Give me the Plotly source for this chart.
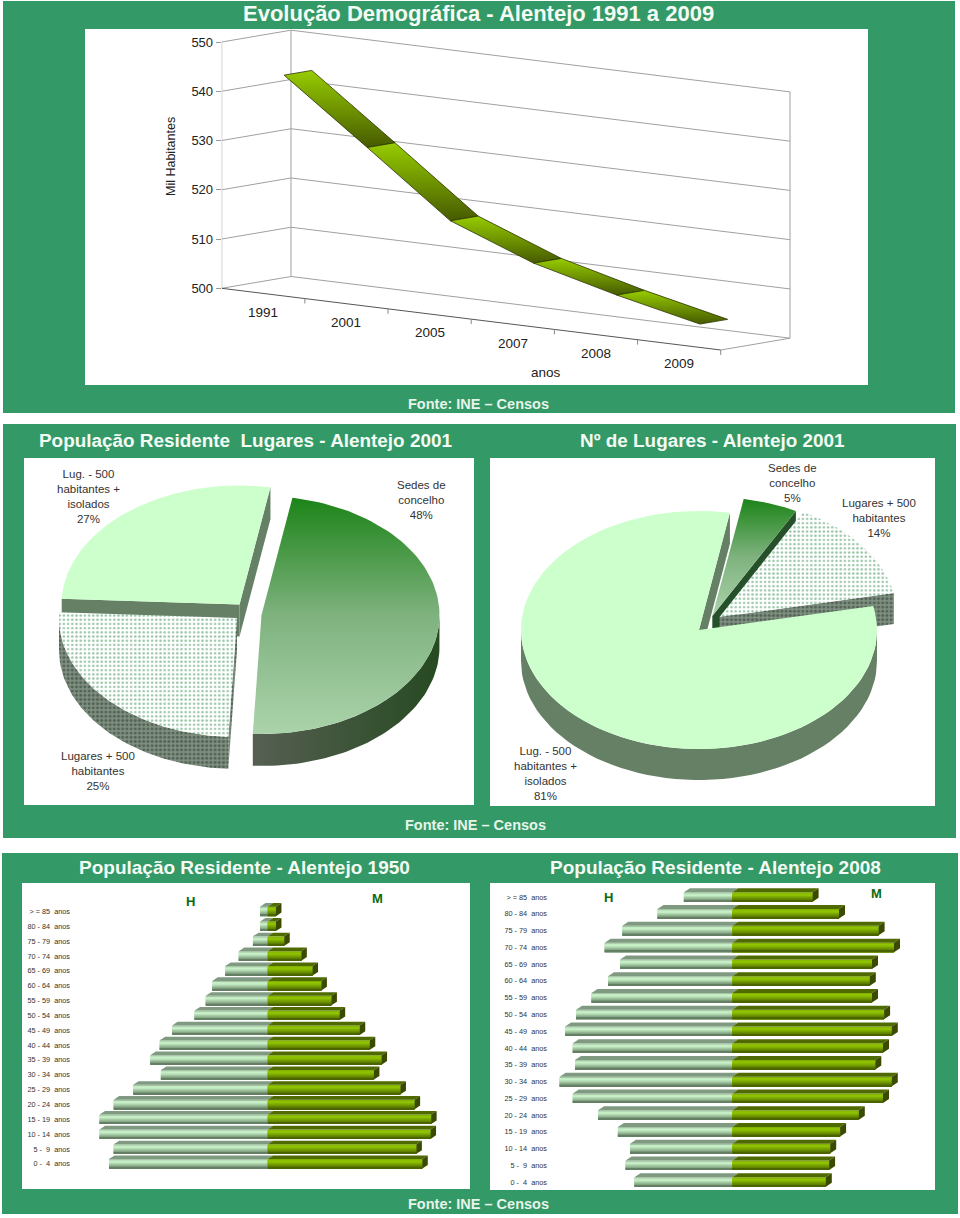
import numpy as np
import plotly.graph_objects as go

# ---------- DATA ----------
anos = ["1991", "2001", "2005", "2007", "2008", "2009"]
populacao = [543.6, 531.0, 518.2, 511.7, 507.3, 503.5]
ticks_pop = [500, 510, 520, 530, 540, 550]

pie1_labels = ["Sedes de<br>concelho<br>48%", "Lugares + 500<br>habitantes<br>25%", "Lug. - 500<br>habitantes +<br>isolados<br>27%"]
pie1_values = [48, 25, 27]
pie2_labels = ["Sedes de<br>concelho<br>5%", "Lugares + 500<br>habitantes<br>14%", "Lug. - 500<br>habitantes +<br>isolados<br>81%"]
pie2_values = [5, 14, 81]

idades = ["> = 85\u00a0 anos", "80 - 84\u00a0 anos", "75 - 79\u00a0 anos", "70 - 74\u00a0 anos", "65 - 69\u00a0 anos",
          "60 - 64\u00a0 anos", "55 - 59\u00a0 anos", "50 - 54\u00a0 anos", "45 - 49\u00a0 anos", "40 - 44\u00a0 anos",
          "35 - 39\u00a0 anos", "30 - 34\u00a0 anos", "25 - 29\u00a0 anos", "20 - 24\u00a0 anos", "15 - 19\u00a0 anos",
          "10 - 14\u00a0 anos", "5 -\u00a0 9\u00a0 anos", "0 -\u00a0 4\u00a0 anos"]
h_1950 = [1.3, 1.3, 2.5, 4.9, 7.2, 9.4, 10.5, 12.4, 16.2, 18.3, 19.9, 18.1, 22.8, 26.1, 28.5, 28.5, 26.1, 26.9]
m_1950 = [1.4, 1.4, 2.8, 5.7, 7.6, 9.1, 10.8, 12.2, 15.6, 17.3, 19.3, 18.0, 22.5, 24.9, 27.7, 27.6, 25.2, 26.2]
h_2008 = [4.4, 6.8, 10.0, 11.6, 10.2, 11.3, 12.8, 14.2, 15.2, 14.5, 14.3, 15.7, 14.5, 12.2, 10.4, 9.3, 9.7, 8.9]
m_2008 = [7.3, 9.7, 13.3, 14.7, 12.7, 12.5, 12.7, 13.8, 14.5, 13.7, 13.0, 14.5, 13.7, 11.5, 9.8, 8.9, 8.8, 8.5]

# ---------- LAYOUT HELPERS ----------
W, H = 960, 1218
FONT = "Liberation Sans"
GREEN = "#339966"
px_x = lambda p: p / W
px_y = lambda p: 1 - p / H
dom_x = lambda a, b: [px_x(a), px_x(b)]
dom_y = lambda top, bot: [px_y(bot), px_y(top)]

fig = go.Figure()
shapes, annos = [], []


def rect(x0, y0, x1, y1, color):
    shapes.append(dict(type="rect", xref="paper", yref="paper", x0=px_x(x0), x1=px_x(x1), y0=px_y(y1), y1=px_y(y0),
                       fillcolor=color, line_width=0, layer="below"))


def page_text(text, x, y, size, color="white", bold=False, angle=0):
    annos.append(dict(text=f"<b>{text}</b>" if bold else text, xref="paper", yref="paper", x=px_x(x), y=px_y(y),
                      showarrow=False, xanchor="center", yanchor="middle", textangle=angle,
                      font=dict(family=FONT, size=size, color=color)))


for box in [(3, 1, 955, 413), (3, 424, 956, 838), (2, 853, 958, 1214)]:
    rect(*box, GREEN)
for box in [(85, 29, 868, 385), (24, 458, 474, 805), (490, 458, 935, 806), (22, 883, 470, 1189), (490, 883, 935, 1190)]:
    rect(*box, "white")

page_text("Evolução Demográfica - Alentejo 1991 a 2009", 478.5, 13, 22, bold=True, color="#f4fbf4")
page_text("População Residente  Lugares - Alentejo 2001", 246, 440, 18.9, bold=True, color="#f4fbf4")
page_text("Nº de Lugares - Alentejo 2001", 712, 440, 18.9, bold=True, color="#f4fbf4")
page_text("População Residente - Alentejo 1950", 245, 867, 19, bold=True, color="#f4fbf4")
page_text("População Residente - Alentejo 2008", 715, 867, 19, bold=True, color="#f4fbf4")
for yy, xx in [(404, 478), (825, 475), (1204, 478)]:
    page_text("Fonte: INE \u2013 Censos", xx, yy, 14.5, bold=True, color="#e6f4ea")


def hidden_axis(domain, rng):
    return dict(domain=domain, range=rng, visible=False, fixedrange=True)


# ---------- 3-D LINE ----------
U_PX, V_PX = 83.17, 4.926
SLOPE_U, SLOPE_D = 10.283, 11.8
DEPTH_U = 69.3 / U_PX


def proj(u, d, v):
    return u + d * DEPTH_U, v - (u * SLOPE_U - d * SLOPE_D) / V_PX


def seg(points, color="#a0a0a0", width=1):
    xs, ys = zip(*[proj(*p) for p in points])
    fig.add_trace(go.Scatter(x=xs, y=ys, mode="lines", line=dict(color=color, width=width), hoverinfo="skip",
                             showlegend=False, xaxis="x", yaxis="y"))


n = len(anos)
for t in ticks_pop:
    seg([(0, 0, t), (0, 1, t), (n, 1, t)])
seg([(0, 0, ticks_pop[0]), (0, 0, ticks_pop[-1])])
seg([(0, 1, ticks_pop[0]), (0, 1, ticks_pop[-1])])
seg([(n, 1, ticks_pop[0]), (n, 1, ticks_pop[-1])])
seg([(n, 0, ticks_pop[0]), (n, 1, ticks_pop[0])])
seg([(0, 0, ticks_pop[0]), (n, 0, ticks_pop[0])], color="#555555")
for k in range(1, n + 1):
    seg([(k, 0, ticks_pop[0]), (k, 0, ticks_pop[0] - 1.0)], color="#888888")

for k in range(n - 1):
    corners = [proj(k + .5, .3, populacao[k]), proj(k + .5, .7, populacao[k]),
               proj(k + 1.5, .7, populacao[k + 1]), proj(k + 1.5, .3, populacao[k + 1])]
    corners.append(corners[0])
    xs, ys = zip(*corners)
    fig.add_trace(go.Scatter(x=xs, y=ys, mode="lines", fill="toself", line=dict(color="#2a3300", width=0.8),
                             fillgradient=dict(type="vertical", colorscale=[[0, "#465a00"], [0.5, "#6f9400"], [1, "#97cc00"]]),
                             hoverinfo="skip", showlegend=False, xaxis="x", yaxis="y"))
for k, lab in enumerate(anos):
    x, y = proj(k + .5, 0, ticks_pop[0] - 3.8)
    annos.append(dict(text=lab, x=x, y=y, xref="x", yref="y", showarrow=False, xanchor="center", yanchor="middle",
                      font=dict(family=FONT, size=13.5, color="#222222")))
page_text("anos", 546, 372, 13.5, color="#222222")
page_text("Mil Habitantes", 171, 157, 12.5, color="#222222", angle=-90)

axes = dict(
    xaxis=hidden_axis(dom_x(221.7, 868), [0, (868 - 221.7) / U_PX]),
    yaxis=dict(domain=dom_y(29, 385), range=[500 + (288.3 - 385) / V_PX, 500 + (288.3 - 29) / V_PX], tickvals=ticks_pop,
               showgrid=False, zeroline=False, showline=False, ticks="outside", ticklen=5, tickcolor="#999999", anchor="x",
               tickfont=dict(family=FONT, size=13, color="#222222"), fixedrange=True),
    xaxis2=hidden_axis(dom_x(24, 474), [24, 474]), yaxis2=hidden_axis(dom_y(458, 805), [805, 458]),
    xaxis3=hidden_axis(dom_x(490, 935), [490, 935]), yaxis3=hidden_axis(dom_y(458, 806), [806, 458]),
)
for k in "23":
    axes["xaxis" + k]["anchor"] = "y" + k
    axes["yaxis" + k]["anchor"] = "x" + k

# ---------- 3-D PIES ----------
A, B = 178, 119
START = 10.0
SOLID = lambda c: dict(fillcolor=c)
grad_top = dict(fillgradient=dict(type="vertical", colorscale=[[0, "#abd3ab"], [0.5, "#7fb27f"], [1, "#1c8418"]]))
grad_arc = dict(fillgradient=dict(type="horizontal", colorscale=[[0, "#575f52"], [1, "#264a22"]]))
dots_top = dict(fillpattern=dict(shape=".", bgcolor="#ffffff", fgcolor="#3c8f58", size=4.2, solidity=0.3))
dots_side = dict(fillpattern=dict(shape=".", bgcolor="#7d8f80", fgcolor="#2c382c", size=4.2, solidity=0.4))


def polygon(xs, ys, style, xa, ya):
    fig.add_trace(go.Scatter(x=list(xs), y=list(ys), mode="lines", fill="toself", line=dict(width=0, color="rgba(0,0,0,0)"),
                             hoverinfo="skip", showlegend=False, xaxis=xa, yaxis=ya, **style))


def slice3d(t0, t1, c, depth, top, arc, radial, xa, ya):
    cx, cy = c
    P = lambda t: (cx + A * np.sin(np.radians(t)), cy - B * np.cos(np.radians(t)))
    if np.sin(np.radians(t0)) < 0:
        ex, ey = P(t0)
        polygon([cx, ex, ex, cx, cx], [cy, ey, ey + depth, cy + depth, cy], radial, xa, ya)
    if np.sin(np.radians(t1)) > 0:
        ex, ey = P(t1)
        polygon([cx, ex, ex, cx, cx], [cy, ey, ey + depth, cy + depth, cy], radial, xa, ya)
    a0, a1 = max(t0, 90), min(t1, 270)
    if a1 > a0:
        ts = np.linspace(a0, a1, 60)
        px_, py_ = P(ts)
        polygon(np.r_[px_, px_[::-1], px_[0]], np.r_[py_, py_[::-1] + depth, py_[0]], arc, xa, ya)
    ts = np.linspace(t0, t1, 100)
    px_, py_ = P(ts)
    polygon(np.r_[cx, px_, cx], np.r_[cy, py_, cy], top, xa, ya)


def pie(values, centers, styles, order, depth, xa, ya):
    edges = START + np.cumsum([0] + list(values)) * 3.6 / (sum(values) / 100)
    for i in order:
        slice3d(edges[i], edges[i + 1], centers[i], depth, *styles[i], xa, ya)


st_pale = (SOLID("#ccffcc"), SOLID("#668066"), SOLID("#668066"))
pie(pie1_values, [(261.5, 615), (237, 618), (239.5, 604.5)],
    [(grad_top, grad_arc, SOLID("#3a5034")), (dots_top, dots_side, dots_side), st_pale],
    [2, 1, 0], 32, "x2", "y2")
pie(pie2_values, [(712.3, 616), (719.5, 617), (699, 630)],
    [(grad_top, grad_arc, SOLID("#25502a")), (dots_top, dots_side, dots_side), st_pale],
    [0, 1, 2], 31, "x3", "y3")


def label(text, x, y, xr):
    annos.append(dict(text=text, x=x, y=y, xref=xr, yref=xr.replace("x", "y"), showarrow=False, align="center",
                      xanchor="center", yanchor="middle", font=dict(family=FONT, size=11.5, color="#333333")))


label(pie1_labels[0], 421.5, 500, "x2")
label(pie1_labels[1], 98, 771, "x2")
label(pie1_labels[2], 88, 496.5, "x2")
label(pie2_labels[0], 792.7, 483, "x3")
label(pie2_labels[1], 879, 518, "x3")
label(pie2_labels[2], 545.7, 773.5, "x3")

# ---------- PYRAMIDS ----------
H_BANDS = ["#a4c6a4", "#c4ecc4", "#c8f0c8", "#b6dcb6", "#a2c8a2", "#8eb08e", "#7a987a", "#647f64"]
M_BANDS = ["#82b000", "#90c400", "#8cc000", "#80ae00", "#749c00", "#668a00", "#587600", "#4a6400"]


def pyramid(men, women, xa, ya, bar_h, dx, dy):
    yi = list(range(len(men)))
    bh = bar_h / len(H_BANDS)
    for side, colors in ((-1, H_BANDS), (1, M_BANDS)):
        vals = [side * v for v in (men if side < 0 else women)]
        for b, col in enumerate(colors):
            # each band runs to the bottom of the bar; the next band paints over it
            fig.add_trace(go.Bar(x=vals, y=yi, orientation="h", base=0, width=bar_h - b * bh, offset=-bar_h / 2 + b * bh,
                                 marker=dict(color=col, line_width=0), hoverinfo="skip", showlegend=False, xaxis=xa, yaxis=ya))
    tx, ty, tmx, tmy, sx, sy = [], [], [], [], [], []
    for i in yi:
        top = i - bar_h / 2
        bot = i + bar_h / 2
        e = -men[i]
        tx += [e, e + dx, dx, 0, e, None]
        ty += [top, top - dy, top - dy, top, top, None]
        e = women[i]
        tmx += [0, dx, e + dx, e, 0, None]
        tmy += [top, top - dy, top - dy, top, top, None]
        sx += [e, e + dx, e + dx, e, e, None]
        sy += [top, top - dy, bot - dy, bot, top, None]
    polygon(tx, ty, SOLID("#7f9a80"), xa, ya)
    polygon(tmx, tmy, SOLID("#4f6a00"), xa, ya)
    polygon(sx, sy, SOLID("#3a4a00"), xa, ya)


def pyr_axes(x0, x1, center, kpx, y0, y1, ypx0, pitch, anchor):
    xa = hidden_axis(dom_x(x0, x1), [(x0 - center) / kpx, (x1 - center) / kpx])
    xa["anchor"] = "y" + anchor
    ya = dict(domain=dom_y(y0, y1), range=[(y1 - ypx0) / pitch, (y0 - ypx0) / pitch], tickmode="array",
              tickvals=list(range(len(idades))), ticktext=idades, showgrid=False, zeroline=False, showline=False,
              ticks="", tickfont=dict(family=FONT, size=7.3, color="#333333"), anchor="x" + anchor, fixedrange=True)
    return xa, ya


axes["xaxis4"], axes["yaxis4"] = pyr_axes(71, 470, 267.7, 5.9, 883, 1189, 911.4, 14.85, "4")
axes["xaxis5"], axes["yaxis5"] = pyr_axes(548, 935, 732.3, 11.0, 883, 1190, 897.1, 16.76, "5")
pyramid(h_1950, m_1950, "x4", "y4", 9.5 / 14.85, 5.5 / 5.9, 3.6 / 14.85)
pyramid(h_2008, m_2008, "x5", "y5", 9.5 / 16.76, 6 / 11.0, 4 / 16.76)

for t, x, y in [("H", 190.5, 901), ("M", 377, 898.5), ("H", 608, 897), ("M", 876, 893)]:
    page_text(t, x, y, 13, bold=True, color="#0b6b0b")

fig.update_layout(width=W, height=H, margin=dict(l=0, r=0, t=0, b=0, pad=0), paper_bgcolor="white", plot_bgcolor="rgba(0,0,0,0)",
                  barmode="overlay", showlegend=False, shapes=shapes, annotations=annos, **axes)
fig.write_html("out.html", config={"displayModeBar": False},
               post_script="document.body.style.margin='0';document.documentElement.style.overflow='hidden';")
